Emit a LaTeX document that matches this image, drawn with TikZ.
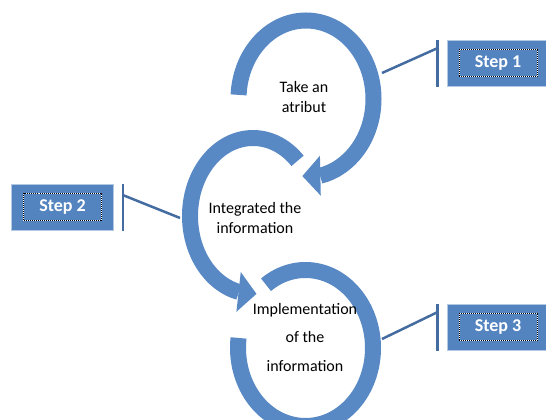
\documentclass[tikz,border=0pt]{standalone}
\usepackage{fontspec}
\setmainfont{Carlito}
\usetikzlibrary{decorations.markings}
\definecolor{ringblue}{RGB}{88,137,197}
\definecolor{boxblue}{RGB}{84,132,192}
\definecolor{linkblue}{RGB}{68,108,160}
\tikzset{ring/.style={draw=ringblue, line width=16pt},
  ringarrow/.style={ring,
    decoration={
      markings,
      mark=at position 0.999 with {\fill[ringblue, rotate=#1] (0pt,20pt) -- (18pt,0pt) -- (0pt,-20pt) -- cycle;},
    },
    postaction={decorate}
  },
  ringarrow/.default=0,
  ringtext/.style={align=center, font=\fontsize{16}{20}\selectfont},
  stepbox/.style={fill=boxblue, draw=white!55!boxblue, line width=0.8pt,
    minimum width=102pt, minimum height=46pt},
  steplabel/.style={draw=white, line width=1pt,
    postaction={draw=black, densely dotted, line width=1pt},
    text=white, font=\fontsize{18}{20}\selectfont\bfseries,
    minimum width=78pt, minimum height=27pt},
  link/.style={draw=linkblue, line width=2.5pt}
}

\begin{document}
\begin{tikzpicture}[x=1pt, y=1pt]
  \useasboundingbox (0,0) rectangle (546,420);
  \clip (0,0) rectangle (546,420);

  % ring centres
  \coordinate (c1) at (306,321);
  \coordinate (c2) at (253,204);
  \coordinate (c3) at (305.5,72);

  % the three rings
  \draw[ringarrow=-13] ([shift={(177:67.5 and 78.5)}]c1)
    arc[start angle=177, end angle=-78, x radius=67.5, y radius=78.5];
  \draw[ringarrow=10] ([shift={(45:63 and 78)}]c2)
    arc[start angle=45, end angle=257, x radius=63, y radius=78];
  \draw[ring] ([shift={(125.8:67.5 and 78)}]c3)
    arc[start angle=125.8, end angle=-187.4, x radius=67.5, y radius=78];

  \node[ringtext] (take) at (304,323) {Take an\\atribut};
  \node[ringtext] (integ) at (255,202) {Integrated the\\information};
  \node[ringtext, font=\fontsize{16}{28.5}\selectfont] (impl) at (305,82.5)
    {Implementation\\of the\\information};

  % step boxes
  \node[stepbox] (step1) at (498,356.5) {};
  \node[steplabel] (lab1) at (step1) {Step 1};
  \node[stepbox] (step2) at (62.5,212.5) {};
  \node[steplabel] (lab2) at (step2) {Step 2};
  \node[stepbox] (step3) at (498,92.5) {};
  \node[steplabel] (lab3) at (step3) {Step 3};

  % bars beside the boxes
  \draw[link] ([xshift=-9pt]step1.north west) -- ([xshift=-9pt]step1.south west);
  \draw[link] ([xshift=9pt]step2.north east) -- ([xshift=9pt]step2.south east);
  \draw[link] ([xshift=-9pt]step3.north west) -- ([xshift=-9pt]step3.south west);

  % links from rings to bars
  \coordinate (r1) at (382,347);
  \coordinate (r2) at (180,202);
  \coordinate (r3) at (382,81);
  \coordinate (b1) at ([xshift=-9pt,yshift=-8pt]step1.north west);
  \coordinate (b2) at ([xshift=9pt,yshift=-11pt]step2.north east);
  \coordinate (b3) at ([xshift=-9pt,yshift=-8pt]step3.north west);
  \draw[link] (r1) -- (b1);
  \draw[link] (r2) -- (b2);
  \draw[link] (r3) -- (b3);
\end{tikzpicture}
\end{document}
